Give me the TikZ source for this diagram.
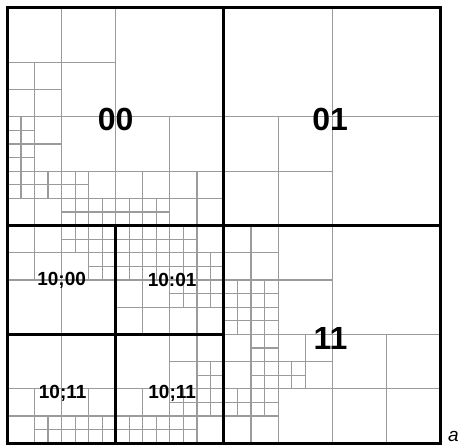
\documentclass[tikz,border=0pt]{standalone}
\usepackage{fontspec}
\setmainfont{Liberation Sans}
\usepackage{tikz}
\definecolor{cellline}{RGB}{155,155,155}

\begin{document}
\begin{tikzpicture}[x=13.53pt,y=-13.6pt,
  cell/.style={draw=cellline,line width=1.2pt},
  quad/.style={draw=black,line width=3pt},
  big/.style={font=\fontsize{32}{38}\selectfont\bfseries,inner sep=0pt},
  small/.style={font=\fontsize{19}{23}\selectfont\bfseries,inner sep=0pt},
  lab/.style={font=\fontsize{19}{22}\selectfont\itshape,inner sep=0pt}]
\useasboundingbox (-7.5pt,8pt) rectangle (454.5pt,-438pt);
\foreach \u/\v/\s in {0/0/16,0/0/8,0/4/4,0/8/8,0/8/4,0/8/2,0/10/2,0/12/4,0/12/2,2/12/2,4/12/4,4/12/2,4/14/2,6/14/2,8/8/8,8/12/4,8/14/2,10/14/2,12/12/4,
  16/0/16,16/8/8,
  0/16/8,0/16/4,4/16/4,4/16/2,6/16/2,6/18/2,
  8/16/8,8/16/4,8/16/2,10/16/2,8/18/2,10/18/2,12/16/4,12/16/2,12/18/2,14/18/2,8/20/4,12/20/4,12/20/2,14/20/2,
  0/24/8,0/28/4,2/30/2,4/28/4,4/30/2,6/30/2,
  8/24/8,12/24/4,14/26/2,8/28/4,8/30/2,10/30/2,12/28/4,12/28/2,14/28/2,12/30/2,
  16/16/16,16/16/8,16/16/4,16/20/4,16/20/2,18/20/2,16/22/2,18/22/2,16/24/8,16/24/4,18/24/2,18/26/2,20/24/4,20/26/2,16/28/4,16/28/2,18/28/2,24/24/8}
  \draw[cell] (\u+\s/2,\v) -- ++(0,\s) (\u,\v+\s/2) -- ++(\s,0);
\draw[quad] (0,0) rectangle (32,32);
\draw[quad] (16,0) -- (16,32) (0,16) -- (32,16) (8,16) -- (8,32) (0,24) -- (16,24);
\node[big] (q00) at (8,8.2) {00};
\node[big] (q01) at (23.85,8.2) {01};
\node[big] (q11) at (23.87,24.3) {11};
\node[small] (q1000) at (4,20) {10;00};
\node[small] (q1001) at (12.17,20) {10:01};
\node[small] (q1011a) at (4.08,28.3) {10;11};
\node[small] (q1011b) at (12.17,28.3) {10;11};
\node[lab,anchor=base west] (tag) at (32.55,31.85) {a};
\end{tikzpicture}
\end{document}
